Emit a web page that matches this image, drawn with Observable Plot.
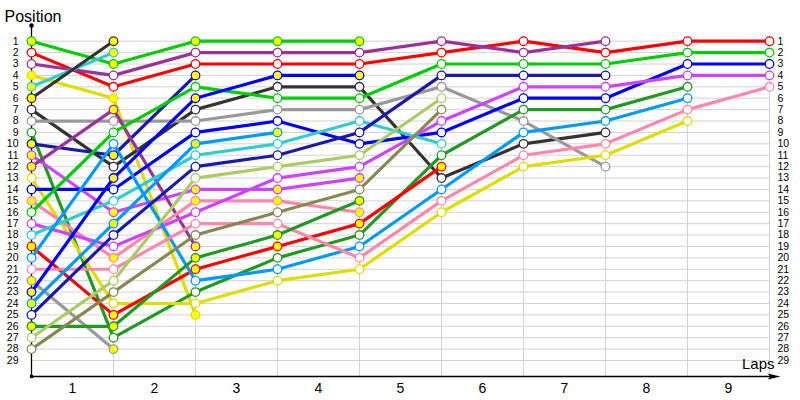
<!DOCTYPE html>
<html>
<head>
<meta charset="utf-8">
<script src="https://cdn.jsdelivr.net/npm/d3@7"></script>
<script src="https://cdn.jsdelivr.net/npm/@observablehq/plot@0.6"></script>
<style>
  html, body { margin: 0; padding: 0; background: #fff; }
  #chart svg { display: block; }
</style>
</head>
<body>
<div id="chart"></div>
<script>
// ---- Data ----
const laps = [0, 1, 2, 3, 4, 5, 6, 7, 8, 9];
const lapLabels = ["1", "2", "3", "4", "5", "6", "7", "8", "9"];
const positionTicks = [1,2,3,4,5,6,7,8,9,10,11,12,13,14,15,16,17,18,19,20,21,22,23,24,25,26,27,28,29];

// driver colours (by starting position) and marker fill
const driverColors = [
  "#00cc00", "#ff0000", "#993399", "#dddd00", "#33cccc", "#333333", "#333333",
  "#999999", "#229922", "#1a1aaa", "#cc44ff", "#993399", "#dddd00", "#0000ff",
  "#ff88aa", "#00cc00", "#cc44ff", "#33cccc", "#ff0000", "#0099ff", "#ff88aa",
  "#999999", "#0000ff", "#0099ff", "#1a1aaa", "#229922", "#aacc66", "#888855"
];
const driverFills = [
  "#ffff00", "#ffffff", "#ffffff", "#ffff00", "#ffff00", "#ffff00", "#ffffff",
  "#ffffff", "#ffffff", "#ffff00", "#ffff00", "#ffff00", "#ffffff", "#ffffff",
  "#ffff00", "#ffffff", "#ffffff", "#ffffff", "#ffff00", "#ffffff", "#ffffff",
  "#ffff00", "#ffff00", "#ffff00", "#ffffff", "#ffff00", "#ffffff", "#ffffff"
];

// positions per lap (start = lap 0)
const p01 = [1, 3, 1, 1, 1];
const p02 = [2, 5, 3, 3, 3, 2, 1, 2, 1, 1];
const p03 = [3, 4, 2, 2, 2, 1, 2, 1];
const p04 = [4, 6, 25];
const p05 = [5, 2];
const p06 = [6, 1];
const p07 = [7, 12, 7, 5, 5, 13, 10, 9];
const p08 = [8, 8, 8, 7, 7, 5, 8, 12];
const p09 = [9, 27, 23, 20, 18, 11, 7, 7, 5];
const p10 = [10, 11, 4];
const p11 = [11, 16, 14, 14, 13];
const p12 = [12, 7, 19];
const p13 = [13, 24, 24, 22, 21, 16, 12, 11, 8];
const p14 = [14, 14, 9, 8, 10, 9, 6, 6, 3, 3];
const p15 = [15, 20, 15, 15, 16];
const p16 = [16, 9, 5, 6, 6, 3, 3, 3, 2, 2];
const p17 = [17, 19, 16, 13, 12, 8, 5, 5, 4, 4];
const p18 = [18, 15, 11, 10, 8, 10];
const p19 = [19, 25, 21, 19, 17, 12];
const p20 = [20, 10, 22, 21, 19, 14, 9, 8, 6];
const p21 = [21, 21, 17, 17, 20, 15, 11, 10, 7, 5];
const p22 = [22, 28];
const p23 = [23, 13, 6, 4, 4];
const p24 = [24, 17, 10, 9];
const p25 = [25, 18, 12, 11, 9, 4, 4, 4];
const p26 = [26, 26, 20, 18, 15];
const p27 = [27, 22, 13, 12, 11, 6];
const p28 = [28, 23, 18, 16, 14, 7];

const driverPositions = [p01,p02,p03,p04,p05,p06,p07,p08,p09,p10,p11,p12,p13,p14,
  p15,p16,p17,p18,p19,p20,p21,p22,p23,p24,p25,p26,p27,p28];

const rows = [];
driverPositions.forEach((arr, i) => {
  arr.forEach((pos, j) => {
    rows.push({driver: i + 1, lap: laps[j], pos, color: driverColors[i], fill: driverFills[i]});
  });
});

const lapMid = laps.slice(1).map(l => l - 0.5);

const arrowSymbol = {
  draw(ctx) {
    ctx.moveTo(7, 0);
    ctx.lineTo(-6, -3);
    ctx.lineTo(-3, 0);
    ctx.lineTo(-6, 3);
    ctx.closePath();
  }
};

const chart = Plot.plot({
  width: 800,
  height: 400,
  marginLeft: 31,
  marginRight: 31,
  marginTop: 40.7,
  marginBottom: 40,
  x: {domain: [0, 9], axis: null},
  y: {domain: [1, 29], reverse: true, axis: null},
  color: {type: "identity"},
  style: {fontFamily: "'Liberation Sans', Arial, sans-serif", background: "#fff", overflow: "visible"},
  marks: [
    Plot.ruleY(positionTicks, {x1: 0, x2: 9, stroke: "#d2d2d2", strokeWidth: 1}),
    Plot.ruleX(laps.slice(1), {y1: 1, y2: 29, insetBottom: -16, stroke: "#d2d2d2", strokeWidth: 1}),
    Plot.ruleX([0], {y1: 1, y2: 29, insetTop: -15.7, insetBottom: -16, stroke: "#000", strokeWidth: 1.3}),
    Plot.ruleY([29], {x1: 0, x2: 9, dy: 16, insetRight: -6, stroke: "#000", strokeWidth: 1.3}),
    Plot.dot([0], {x: d => d, y: [1], dy: -15.7, r: 2.3, fill: "#000", stroke: null}),
    Plot.dot([0], {x: d => d, y: [29], dy: 16, r: 1.8, symbol: "square", fill: "#000", stroke: null}),
    Plot.dot([9], {x: d => d, y: [29], dy: 16, dx: 4, r: 4, symbol: arrowSymbol, fill: "#000", stroke: null}),
    Plot.axisY({anchor: "left", ticks: positionTicks, tickSize: 0, tickPadding: 13, fontSize: 10.5, label: null}),
    Plot.axisY({anchor: "right", ticks: positionTicks, tickSize: 0, tickPadding: 8, fontSize: 10.5, label: null}),
    Plot.axisX({ticks: lapMid, tickFormat: d => lapLabels[Math.round(d - 0.5)], tickSize: 0, tickPadding: 23, fontSize: 14, label: null}),
    Plot.line(rows, {x: "lap", y: "pos", z: "driver", stroke: "color", strokeWidth: 3.2, strokeLinejoin: "round"}),
    Plot.dot(rows, {x: "lap", y: "pos", r: 4.3, stroke: "color", fill: "fill", strokeWidth: 1.3}),
    Plot.text(["Position"], {text: d => d, frameAnchor: "top-left", textAnchor: "start", lineAnchor: "middle", dx: -27, dy: -24, fontSize: 16}),
    Plot.text(["Laps"], {text: d => d, frameAnchor: "bottom-right", textAnchor: "end", lineAnchor: "middle", dx: 5, dy: 4, fontSize: 15})
  ]
});

document.getElementById("chart").appendChild(chart);
</script>
</body>
</html>
